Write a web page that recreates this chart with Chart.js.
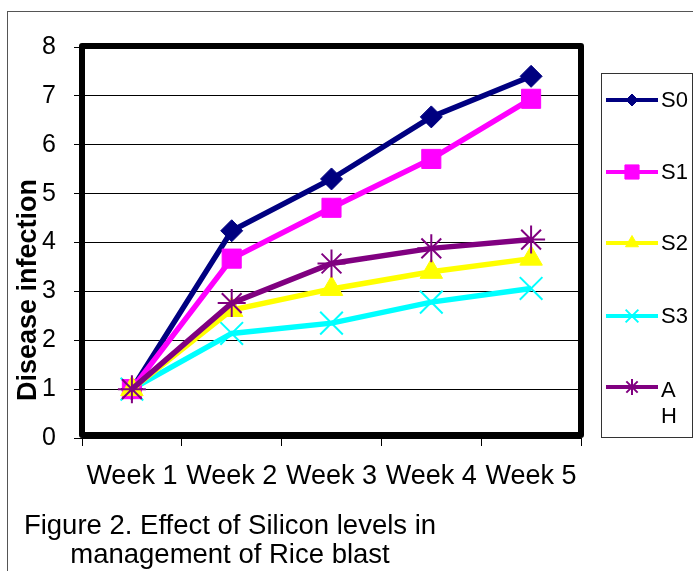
<!DOCTYPE html>
<html>
<head>
<meta charset="utf-8">
<script src="https://cdn.jsdelivr.net/npm/chart.js@4.4.1/dist/chart.umd.min.js"></script>
<style>
    html, body { margin: 0; padding: 0; background: #fff; }
    #wrap { position: relative; width: 693px; height: 571px; overflow: hidden; }
    #frame {
        position: absolute; left: 7px; top: 11px; right: -5px; bottom: -5px;
        border-left: 1px solid #555; border-top: 1px solid #555;
    }
    #chart { position: absolute; left: 0; top: 0; }
    #caption {
        position: absolute; left: 0; top: 510px; width: 460px;
        text-align: center; font: 27.5px "Liberation Sans", Arial, sans-serif;
        line-height: 29px; color: #000;
    }
</style>
</head>
<body>
<div id="wrap">
    <div id="frame"></div>
    <canvas id="chart" width="693" height="571"></canvas>
    <div id="caption">Figure 2. Effect of Silicon levels in<br>management of Rice blast</div>
</div>
<script>
/* Datos */
const SEMANAS = ["Week 1", "Week 2", "Week 3", "Week 4", "Week 5"];
const S0 = [1, 4.24, 5.3, 6.57, 7.4];
const S1 = [1, 3.67, 4.71, 5.71, 6.94];
const S2 = [1, 2.62, 3.05, 3.4, 3.67];
const S3 = [1, 2.14, 2.35, 2.78, 3.06];
const AH = [1, 2.76, 3.57, 3.88, 4.06];
const Y_TICKS = [0, 1, 2, 3, 4, 5, 6, 7, 8];

const FUENTE = '"Liberation Sans", Arial, sans-serif';

/* Marco grueso, título del eje y leyenda */
const marcoPlugin = {
    id: "marco",
    beforeDatasetsDraw(chart) {
        const { ctx, chartArea: a } = chart;
        ctx.save();
        ctx.strokeStyle = "#000";
        ctx.lineWidth = 6;
        ctx.lineJoin = "round";
        ctx.strokeRect(a.left, a.top - 1, a.right - a.left, a.bottom - a.top - 2);
        ctx.restore();
    },
    afterDraw(chart) {
        const ctx = chart.ctx;
        ctx.save();

        // título eje Y
        ctx.translate(29, 290);
        ctx.rotate(-Math.PI / 2);
        ctx.font = "bold 27px " + FUENTE;
        ctx.fillStyle = "#000";
        ctx.textAlign = "center";
        ctx.textBaseline = "middle";
        ctx.fillText("Disease infection", 0, 0);
        ctx.setTransform(1, 0, 0, 1, 0, 0);

        // leyenda
        ctx.strokeStyle = "#333";
        ctx.lineWidth = 1;
        ctx.strokeRect(601.5, 73.5, 91, 364);

        const filas = [100, 172, 243, 316, 387];
        const radios = [6, 10, 7.5, 9, 8];
        chart.data.datasets.forEach((ds, i) => {
            const y = filas[i];
            ctx.strokeStyle = ds.borderColor;
            ctx.lineWidth = 4;
            ctx.beginPath();
            ctx.moveTo(606, y);
            ctx.lineTo(658, y);
            ctx.stroke();

            ctx.fillStyle = ds.pointBackgroundColor;
            ctx.strokeStyle = ds.pointBorderColor;
            ctx.lineWidth = ds.pointBorderWidth;
            Chart.helpers.drawPoint(ctx, {
                pointStyle: ds.pointStyle,
                radius: radios[i],
                rotation: 0,
                borderWidth: ds.pointBorderWidth
            }, 632, y);

            ctx.font = "22px " + FUENTE;
            ctx.fillStyle = "#000";
            ctx.textAlign = "left";
            ctx.textBaseline = "middle";
            const txt = ds.label;
            if (ctx.measureText(txt).width > 28) {
                txt.split("").forEach((c, k) => ctx.fillText(c, 661, y + 4 + k * 26));
            } else {
                ctx.fillText(txt, 661, y + 1);
            }
        });
        ctx.restore();
    }
};

function serie(label, data, color, style, radio, bw, orden) {
    return {
        label,
        data,
        borderColor: color,
        backgroundColor: color,
        borderWidth: 5.5,
        pointStyle: style,
        pointRadius: radio,
        pointHoverRadius: radio,
        pointBackgroundColor: color,
        pointBorderColor: color,
        pointBorderWidth: bw,
        tension: 0,
        order: orden
    };
}

new Chart(document.getElementById("chart"), {
    type: "line",
    data: {
        labels: SEMANAS,
        datasets: [
            serie("S0", S0, "#000080", "rectRot", 11, 1, 5),
            serie("S1", S1, "#FF00FF", "rect", 13.5, 1, 4),
            serie("S2", S2, "#FFFF00", "triangle", 13, 1, 2),
            serie("S3", S3, "#00FFFF", "crossRot", 16, 2, 6),
            serie("AH", AH, "#800080", "star", 14, 2, 1)
        ]
    },
    options: {
        responsive: false,
        animation: false,
        layout: { padding: { left: 0, right: 112, top: 47, bottom: 0 } },
        plugins: {
            legend: { display: false },
            tooltip: { enabled: false }
        },
        scales: {
            x: {
                offset: true,
                grid: {
                    offset: true,
                    drawOnChartArea: false,
                    drawTicks: true,
                    tickLength: 8,
                    color: "#000"
                },
                border: { display: false },
                ticks: {
                    color: "#000",
                    font: { size: 27, family: FUENTE },
                    padding: 14,
                    maxRotation: 0
                },
                afterFit(scale) { scale.height = 133; }
            },
            y: {
                min: 0,
                max: 8,
                afterBuildTicks(scale) { scale.ticks = Y_TICKS.map(v => ({ value: v })); },
                grid: {
                    color: "#000",
                    lineWidth: 1,
                    tickLength: 8
                },
                border: { display: false },
                ticks: {
                    color: "#000",
                    font: { size: 25, family: FUENTE },
                    padding: 18
                },
                afterFit(scale) { scale.width = 82; }
            }
        }
    },
    plugins: [marcoPlugin]
});
</script>
</body>
</html>
